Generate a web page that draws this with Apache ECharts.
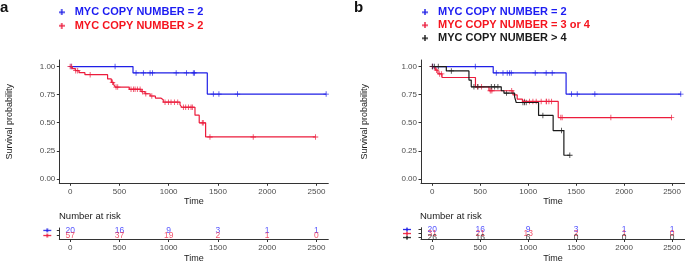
<!DOCTYPE html>
<html>
<head>
<meta charset="utf-8">
<script src="https://cdn.jsdelivr.net/npm/echarts@6/dist/echarts.min.js"></script>
<style>
  html, body { margin: 0; padding: 0; background: #fff; }
  #chart { width: 685px; height: 264px; }
</style>
</head>
<body>
<div id="chart"></div>
<script>
// ---- data ----
const timeTicks = [0, 500, 1000, 1500, 2000, 2500];
const survTicks = [0, 0.25, 0.5, 0.75, 1];

const nameEq2 = "MYC COPY NUMBER = 2";
const nameGt2 = "MYC COPY NUMBER > 2";
const name34 = "MYC COPY NUMBER = 3 or 4";
const nameGt4 = "MYC COPY NUMBER > 4";

// panel a
const aBlueSteps = [[0, 1], [638, 0.944], [1392, 0.755], [2598, 0.755]];
const aBlueCensor = [10, 456, 669, 743, 811, 835, 1076, 1180, 1250, 1262, 1453, 1510, 1698, 2598];
const aRedSteps = [
  [0, 1], [22, 0.982], [52, 0.964], [91, 0.946], [150, 0.928], [380, 0.89], [418, 0.86],
  [442, 0.84], [458, 0.818], [600, 0.798], [720, 0.777], [760, 0.758], [812, 0.738],
  [865, 0.72], [920, 0.704], [945, 0.683], [1115, 0.66], [1133, 0.638], [1267, 0.567],
  [1310, 0.499], [1375, 0.373], [2490, 0.373]
];
const aRedCensor = [0, 16, 57, 77, 203, 430, 466, 483, 618, 642, 659, 682, 710, 734, 768, 829,
  963, 997, 1024, 1058, 1092, 1149, 1173, 1200, 1227, 1240, 1341, 1351, 1419, 1858, 2490];
const aBlueRisk = [20, 16, 9, 3, 1, 1];
const aRedRisk = [57, 37, 19, 2, 1, 0];

// panel b
const bBlueSteps = [[0, 1], [635, 0.944], [1395, 0.755], [2591, 0.755]];
const bBlueCensor = [5, 448, 667, 737, 781, 806, 823, 1073, 1187, 1250, 1452, 1511, 1695, 2591];
const bRedSteps = [
  [0, 1], [31, 0.968], [59, 0.935], [101, 0.903], [450, 0.82], [591, 0.785], [841, 0.748],
  [885, 0.71], [940, 0.69], [1313, 0.546], [2494, 0.546]
];
const bRedCensor = [0, 45, 77, 97, 472, 514, 604, 621, 828, 962, 1014, 1049, 1083, 1135, 1187,
  1192, 1216, 1244, 1340, 1354, 1862, 2494];
const bBlackSteps = [
  [0, 1], [146, 0.962], [382, 0.88], [406, 0.82], [719, 0.785], [747, 0.764], [858, 0.73],
  [875, 0.68], [1108, 0.565], [1260, 0.43], [1372, 0.21], [1434, 0.21]
];
const bBlackCensor = [0, 21, 62, 198, 434, 476, 615, 650, 684, 774, 945, 962, 979, 1153, 1348, 1434];
const bBlueRisk = [20, 16, 9, 3, 1, 1];
const bRedRisk = [31, 21, 13, 2, 1, 0];
const bBlackRisk = [26, 16, 6, 0, 0, 0];

// ---- styles ----
const BLUE = "#1f1fe6", RED = "#ec1c3c", BLACK = "#1a1a1a";
const BLUE_T = "#1c1cf2", RED_T = "#f5141e", BLACK_T = "#1a1a1a";
const AXIS = "#333333", TICKTXT = "#4d4d4d";
const FONT = "Liberation Sans";

function keyIcon(color, w, h) {
  const c = document.createElement("canvas");
  c.width = w; c.height = h;
  const g = c.getContext("2d");
  g.fillStyle = color;
  g.fillRect(0, h / 2 - 0.7, w, 1.4);
  g.fillRect(w / 2 - 0.7, 0, 1.4, h);
  return c;
}

// survival value at time t from a step list
function valueAt(steps, t) {
  let v = steps[0][1];
  for (const s of steps) { if (s[0] <= t) v = s[1]; }
  return v;
}

const PLUS = "path://M0,3.4h8v1.2h-8z M3.4,0h1.2v8h-1.2z";

function curve(name, steps, color, idx) {
  return {
    name, type: "line", step: "end", xAxisIndex: idx, yAxisIndex: idx,
    data: steps, showSymbol: false, symbol: "none", silent: true, animation: false,
    itemStyle: { color }, lineStyle: { color, width: 1.2 }
  };
}
function censors(steps, times, color, idx) {
  return {
    type: "scatter", xAxisIndex: idx, yAxisIndex: idx, silent: true, animation: false,
    data: times.map(t => [t, valueAt(steps, t)]),
    symbol: PLUS, symbolSize: 5.5, itemStyle: { color, opacity: 0.85 }
  };
}
function riskRow(values, row, color, idx) {
  return {
    type: "scatter", xAxisIndex: idx, yAxisIndex: idx, silent: true, animation: false,
    data: timeTicks.map((t, i) => [t, row, values[i]]),
    symbolSize: 0,
    label: { show: true, position: "inside", formatter: p => p.value[2], color, fontSize: 8.5, fontFamily: FONT }
  };
}

function xAxisCfg(idx, min, max, nameGap) {
  return {
    type: "value", gridIndex: idx, min, max,
    axisLine: { show: true, onZero: false, lineStyle: { color: AXIS, width: 1 } },
    axisTick: { show: true, length: 2.5, customValues: timeTicks, lineStyle: { color: AXIS } },
    axisLabel: { customValues: timeTicks, color: TICKTXT, fontSize: 8, margin: 4, fontFamily: FONT,
      formatter: v => String(v) },
    splitLine: { show: false },
    name: "Time", nameLocation: "middle", nameGap,
    nameTextStyle: { fontSize: 9, color: BLACK_T, fontFamily: FONT }
  };
}
function survAxisCfg(idx, nameGap) {
  return {
    type: "value", gridIndex: idx, min: -0.04, max: 1.059,
    axisLine: { show: true, onZero: false, lineStyle: { color: AXIS, width: 1 } },
    axisTick: { show: true, length: 2.5, customValues: survTicks, lineStyle: { color: AXIS } },
    axisLabel: { customValues: survTicks, color: TICKTXT, fontSize: 8, margin: 4, fontFamily: FONT,
      formatter: v => v.toFixed(2) },
    splitLine: { show: false },
    name: "Survival probability", nameLocation: "middle", nameGap,
    nameTextStyle: { fontSize: 9, color: BLACK_T, fontFamily: FONT }
  };
}
function riskAxisCfg(idx, min, max, keys, margin) {
  const rows = keys.map((_, i) => i);
  const rich = {};
  keys.forEach((c, i) => {
    rich["k" + i] = { backgroundColor: { image: keyIcon(c, 8, 5) }, width: 8, height: 4, fontSize: 3, lineHeight: 4 };
  });
  return {
    type: "value", gridIndex: idx, min, max,
    axisLine: { show: true, onZero: false, lineStyle: { color: AXIS, width: 1 } },
    axisTick: { show: true, length: 2.5, customValues: rows, lineStyle: { color: AXIS } },
    axisLabel: { customValues: rows, margin, hideOverlap: false, fontSize: 3, lineHeight: 4,
      showMinLabel: true, showMaxLabel: true,
      formatter: v => "{k" + v + "| }", rich },
    splitLine: { show: false }
  };
}

const legendText = { fontSize: 11, fontWeight: "bold", fontFamily: FONT, lineHeight: 11, padding: [0, 0, 0, 5] };

const option = {
  animation: false,
  backgroundColor: "#fff",
  textStyle: { fontFamily: FONT },
  title: [
    { text: "a", left: 0, top: 0.5, padding: 0, textStyle: { fontSize: 15, fontWeight: "bold", color: "#111", fontFamily: FONT } },
    { text: "b", left: 354, top: 0, padding: 0, textStyle: { fontSize: 15, fontWeight: "bold", color: "#111", fontFamily: FONT } },
    { text: "Number at risk", left: 59, top: 211.5, padding: 0, textStyle: { fontSize: 9.5, fontWeight: "normal", color: BLACK_T, fontFamily: FONT } },
    { text: "Number at risk", left: 420, top: 211.5, padding: 0, textStyle: { fontSize: 9.5, fontWeight: "normal", color: BLACK_T, fontFamily: FONT } }
  ],
  legend: [
    {
      left: 58.7, top: 6.8, orient: "vertical", padding: 0, itemWidth: 6, itemHeight: 6, itemGap: 2.4,
      selectedMode: false, textStyle: legendText,
      data: [
        { name: nameEq2, icon: "image://" + keyIcon(BLUE, 6, 6).toDataURL(), textStyle: { color: BLUE_T } },
        { name: nameGt2, icon: "image://" + keyIcon(RED, 6, 6).toDataURL(), textStyle: { color: RED_T } }
      ]
    },
    {
      left: 422, top: 6.8, orient: "vertical", padding: 0, itemWidth: 6, itemHeight: 6, itemGap: 2.0,
      selectedMode: false, textStyle: legendText,
      data: [
        { name: nameEq2, icon: "image://" + keyIcon(BLUE, 6, 6).toDataURL(), textStyle: { color: BLUE_T } },
        { name: name34, icon: "image://" + keyIcon(RED, 6, 6).toDataURL(), textStyle: { color: RED_T } },
        { name: nameGt4, icon: "image://" + keyIcon(BLACK, 6, 6).toDataURL(), textStyle: { color: BLACK_T } }
      ]
    }
  ],
  grid: [
    { left: 59.3, top: 60, width: 269, height: 123.3 },
    { left: 59.3, top: 228, width: 269, height: 14.7 },
    { left: 421, top: 60, width: 264, height: 123.3 },
    { left: 421, top: 227.7, width: 264, height: 14.6 }
  ],
  xAxis: [
    xAxisCfg(0, -110, 2620, 14),
    xAxisCfg(1, -110, 2620, 14.5),
    xAxisCfg(2, -118, 2635, 14),
    xAxisCfg(3, -118, 2635, 14.5)
  ],
  yAxis: [
    survAxisCfg(0, 45.5),
    riskAxisCfg(1, -0.75, 1.45, [RED, BLUE], 8),
    survAxisCfg(2, 51.5),
    riskAxisCfg(3, -0.46, 2.46, [BLACK, RED, BLUE], 10)
  ],
  series: [
    curve(nameEq2, aBlueSteps, BLUE, 0),
    curve(nameGt2, aRedSteps, RED, 0),
    censors(aBlueSteps, aBlueCensor, BLUE, 0),
    censors(aRedSteps, aRedCensor, RED, 0),
    riskRow(aBlueRisk, 1, "#2a2aff", 1),
    riskRow(aRedRisk, 0, "#f02a4a", 1),

    curve(nameEq2, bBlueSteps, BLUE, 2),
    curve(name34, bRedSteps, RED, 2),
    curve(nameGt4, bBlackSteps, BLACK, 2),
    censors(bBlueSteps, bBlueCensor, BLUE, 2),
    censors(bRedSteps, bRedCensor, RED, 2),
    censors(bBlackSteps, bBlackCensor, BLACK, 2),
    riskRow(bBlueRisk, 2, "#2a2aff", 3),
    riskRow(bRedRisk, 1, "#f02a4a", 3),
    riskRow(bBlackRisk, 0, "#222222", 3)
  ]
};

const chart = echarts.init(document.getElementById("chart"), null, { renderer: "canvas" });
chart.setOption(option);
</script>
</body>
</html>
